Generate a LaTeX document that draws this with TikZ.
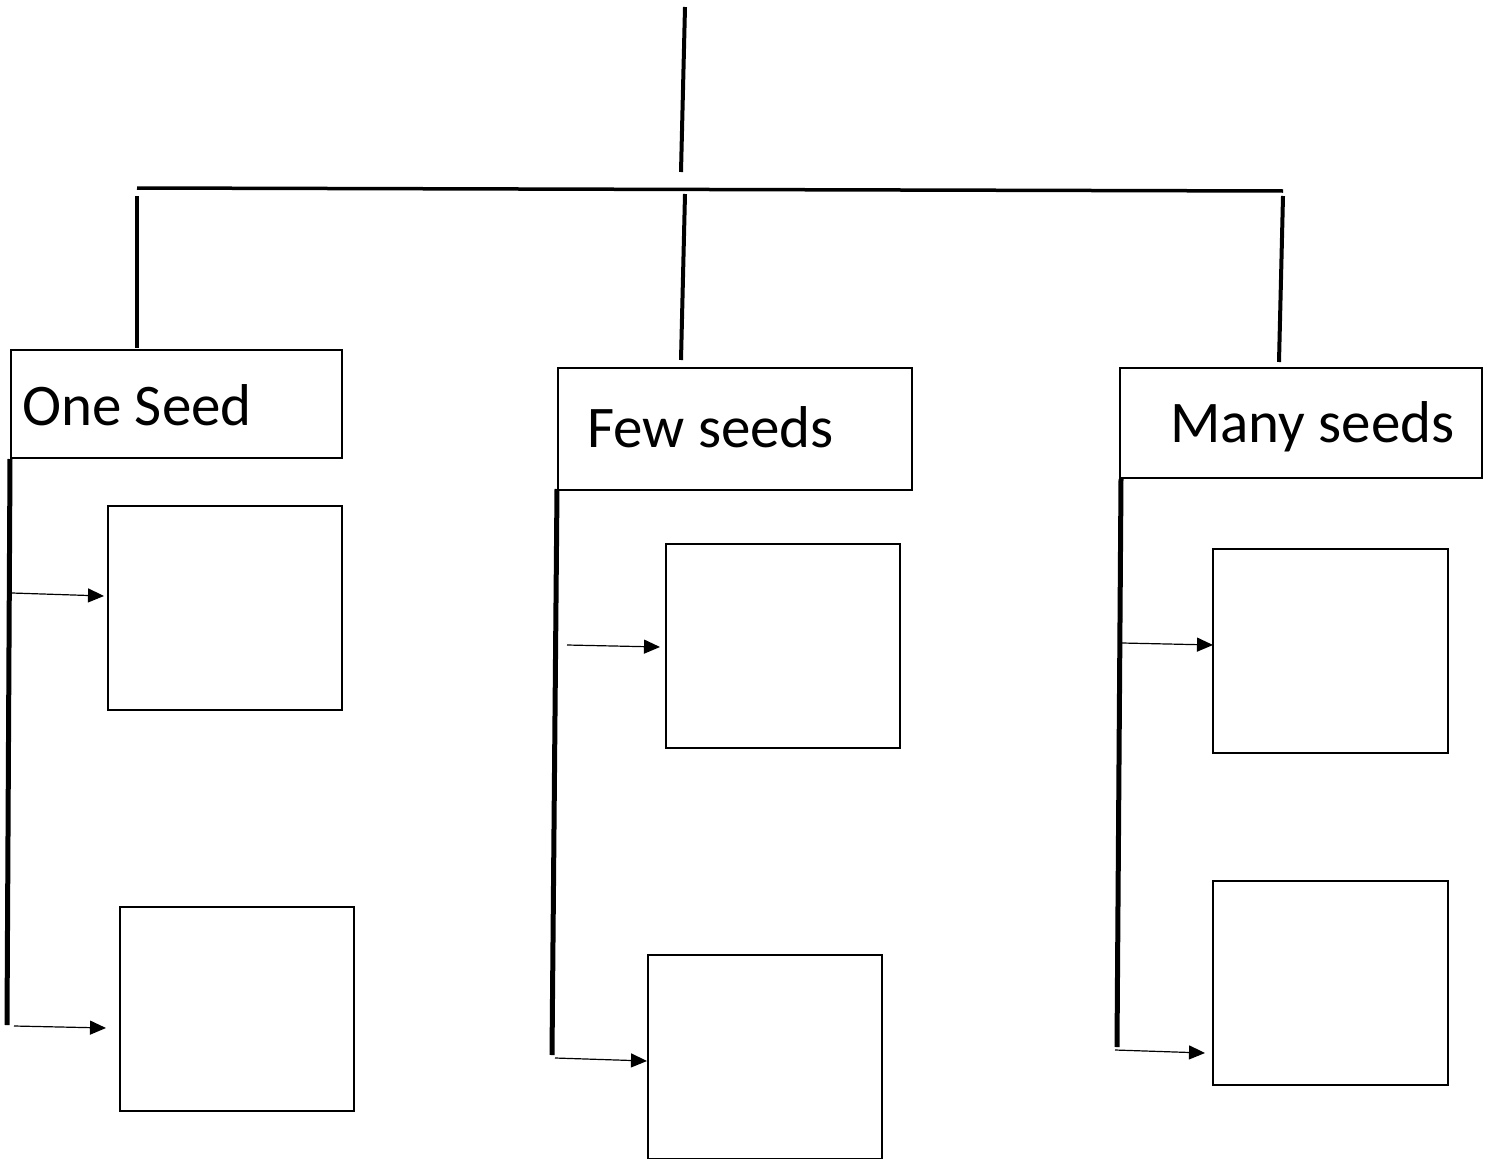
\documentclass[tikz,border=0pt]{standalone}
\usepackage{fontspec}
\setmainfont{Carlito}
\usetikzlibrary{arrows.meta}
\begin{document}
\begin{tikzpicture}[x=1pt,y=-1pt,
  thickline/.style={line width=4pt},
  spine/.style={line width=5pt},
  hbox/.style={draw,line width=2pt,anchor=north west,inner sep=0pt},
  ibox/.style={draw,line width=2pt,anchor=north west,inner sep=0pt,minimum width=234pt,minimum height=204pt},
  lbl/.style={anchor=base west,inner sep=0pt,font=\fontsize{59}{63}\selectfont},
  arr/.style={line width=1.2pt,-{Triangle[length=16pt,width=14pt]}}]
\useasboundingbox (0,0) rectangle (1492,1159);
% top structure
\coordinate (t0) at (685,7);
\coordinate (t1) at (681,172);
\draw[thickline] (t0) -- (t1);
\coordinate (hl) at (137,188);
\coordinate (hr) at (1283,191);
\draw[line width=3.5pt] (hl) -- (hr);
\coordinate (d1a) at (137,196); \coordinate (d1b) at (137,348);
\coordinate (d2a) at (685,194); \coordinate (d2b) at (681,360);
\coordinate (d3a) at (1283,196); \coordinate (d3b) at (1279,362);
\draw[thickline] (d1a) -- (d1b);
\draw[thickline] (d2a) -- (d2b);
\draw[thickline] (d3a) -- (d3b);
% header boxes
\node[hbox,minimum width=331pt,minimum height=108pt] (h1) at (10,349) {};
\node[hbox,minimum width=354pt,minimum height=122pt] (h2) at (557,367) {};
\node[hbox,minimum width=362pt,minimum height=110pt] (h3) at (1119,367) {};
\node[lbl] (l1) at (22,425) {One Seed};
\node[lbl] (l2) at (587,447) {Few seeds};
\node[lbl] (l3) at (1170,442) {Many seeds};
% spines
\coordinate (s1a) at (10,459); \coordinate (s1b) at (7,1025);
\coordinate (s2a) at (557,489); \coordinate (s2b) at (552,1055);
\coordinate (s3a) at (1121,479); \coordinate (s3b) at (1117,1047);
\draw[spine] (s1a) -- (s1b);
\draw[spine] (s2a) -- (s2b);
\draw[spine] (s3a) -- (s3b);
% inner boxes
\node[ibox] (b1) at (107,505) {};
\node[ibox] (b2) at (119,906) {};
\node[ibox] (b3) at (665,543) {};
\node[ibox] (b4) at (647,954) {};
\node[ibox,minimum width=235pt] (b5) at (1212,548) {};
\node[ibox,minimum width=235pt] (b6) at (1212,880) {};
% arrows (tips end near the boxes)
\coordinate (a1) at (12,593);  \coordinate (e1) at (104,596);
\coordinate (a2) at (14,1026); \coordinate (e2) at (106,1028);
\coordinate (a3) at (567,645); \coordinate (e3) at (660,647);
\coordinate (a4) at (555,1058);\coordinate (e4) at (647,1061);
\coordinate (a5) at (1122,643);\coordinate (e5) at (1213,645);
\coordinate (a6) at (1115,1050);\coordinate (e6) at (1205,1053);
\draw[arr] (a1) -- (e1);
\draw[arr] (a2) -- (e2);
\draw[arr] (a3) -- (e3);
\draw[arr] (a4) -- (e4);
\draw[arr] (a5) -- (e5);
\draw[arr] (a6) -- (e6);
\end{tikzpicture}
\end{document}
